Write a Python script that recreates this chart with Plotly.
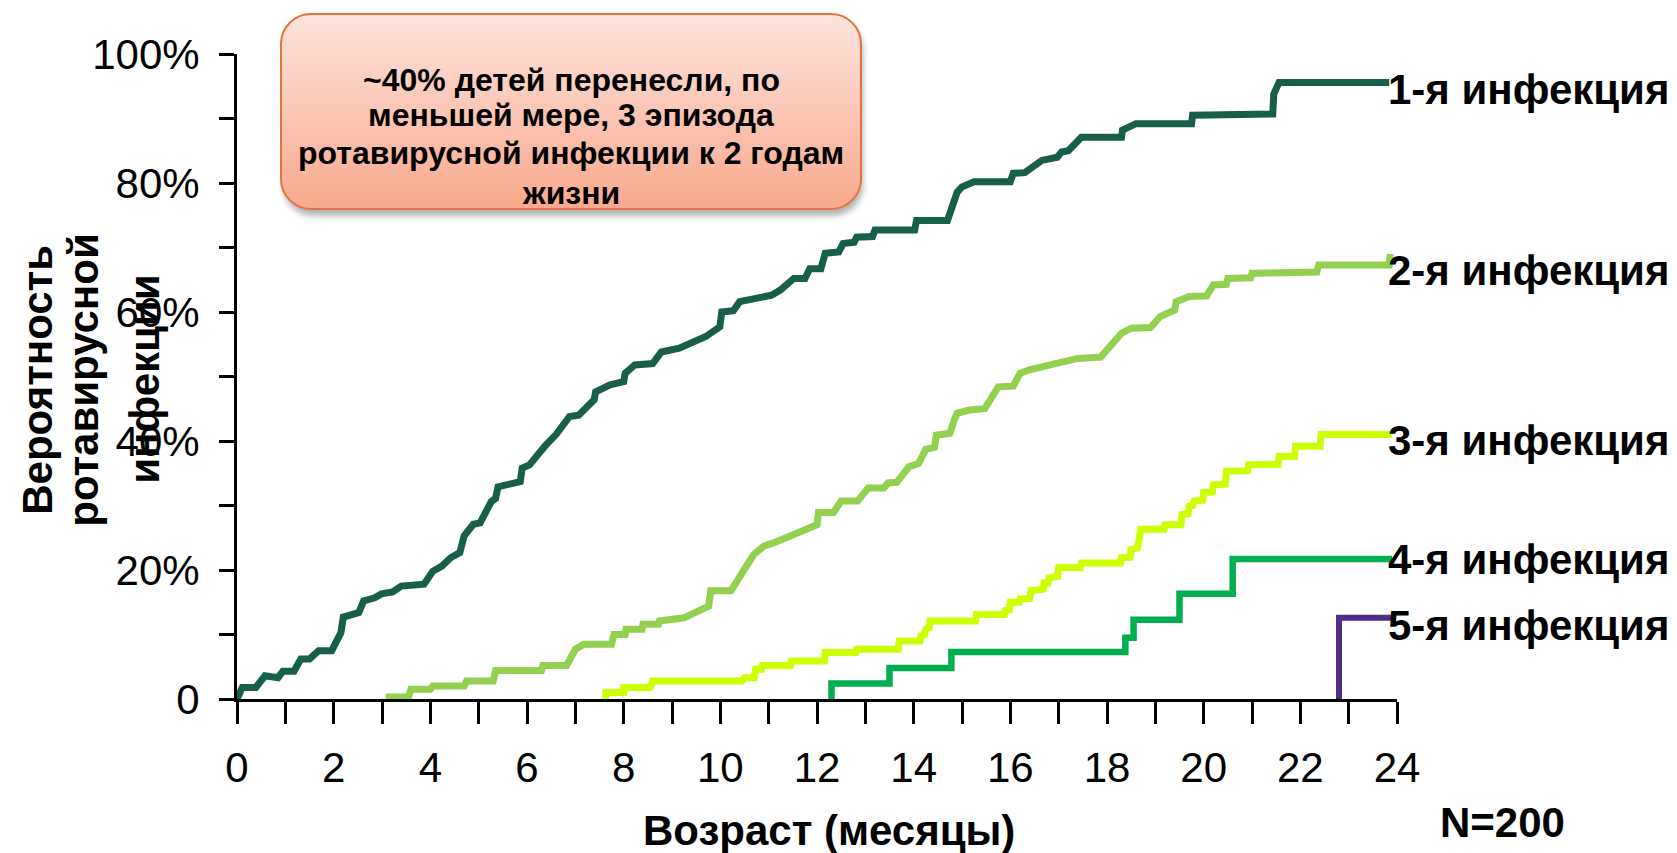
import base64
import plotly.graph_objects as go

# ---------------- data (months, cumulative probability %) ----------------
inf1_x = [0, 0.11, 0.39, 0.58, 0.85, 0.95, 1.18, 1.32, 1.5, 1.69, 1.96, 2.15, 2.2, 2.52, 2.62, 2.85, 2.99,
          3.22, 3.4, 3.87, 4.05, 4.24, 4.42, 4.61, 4.7, 4.89, 5.03, 5.26, 5.35, 5.4, 5.86, 5.9, 6.05, 6.23,
          6.37, 6.6, 6.88, 7.07, 7.25, 7.39, 7.42, 7.72, 8.0, 8.03, 8.23, 8.6, 8.78, 9.15, 9.7, 9.99, 10.03,
          10.27, 10.4, 10.69, 11.06, 11.24, 11.52, 11.75, 11.85, 12.08, 12.17, 12.45, 12.54, 12.77, 12.82,
          13.15, 13.2, 14.02, 14.06, 14.7, 14.8, 14.9, 15.0, 15.25, 16.0, 16.06, 16.3, 16.4, 16.65, 16.97,
          17.06, 17.2, 17.47, 18.3, 18.32, 18.6, 19.75, 19.77, 21.43, 21.45, 21.56, 23.84]
inf1_y = [0, 1.8, 1.8, 3.6, 3.3, 4.3, 4.3, 6.2, 6.2, 7.5, 7.5, 10.3, 12.7, 13.4, 15.2, 15.7, 16.3,
          16.6, 17.5, 17.8, 19.8, 20.6, 21.9, 22.7, 25.3, 27.1, 27.3, 30.6, 31.1, 32.9, 33.7, 35.8, 36.3, 38.1,
          39.2, 41.0, 43.8, 44.0, 45.4, 46.4, 47.6, 48.7, 49.2, 50.5, 51.8, 52.0, 53.8, 54.4, 56.2, 57.7, 60.0,
          60.2, 61.6, 62.1, 62.6, 63.4, 65.2, 65.2, 66.7, 66.7, 69.1, 69.3, 70.6, 70.8, 71.6,
          71.7, 72.7, 72.7, 74.2, 74.2, 76.3, 78.6, 79.4, 80.2, 80.2, 81.5, 81.6, 82.2, 83.5, 84.0,
          84.8, 85.0, 87.1, 87.1, 88.2, 89.2, 89.2, 90.5, 90.7, 93.8, 95.6, 95.6]

inf2_x = [3.08, 3.55, 3.6, 4.0, 4.05, 4.7, 4.75, 5.3, 5.35, 6.3, 6.33, 6.82, 7.0, 7.17, 7.75, 7.8, 8.03,
          8.05, 8.38, 8.4, 8.72, 8.74, 9.25, 9.76, 9.8,
          10.22, 10.69, 10.9, 11.1, 12.0, 12.03, 12.34, 12.5, 12.84, 13.06, 13.38, 13.47, 13.65, 13.9, 14.1,
          14.25, 14.43, 14.47, 14.75, 14.84, 14.9, 15.15, 15.47, 15.75, 16.06, 16.2, 16.38, 16.93, 17.4,
          17.87, 18.3, 18.5, 18.9, 19.1, 19.4, 19.43, 19.7, 20.06, 20.2, 20.47, 20.5, 20.97, 21.0, 22.34,
          22.38, 23.84, 23.86]
inf2_y = [0.3, 0.3, 1.5, 1.5, 2.0, 2.0, 2.8, 2.8, 4.4, 4.4, 5.2, 5.2, 7.7, 8.5, 8.5, 10.0, 10.0,
          10.8, 10.8, 11.6, 11.6, 12.1, 12.6, 14.4, 16.8,
          16.8, 22.4, 23.7, 24.2, 27.0, 28.9, 28.9, 30.7, 30.7, 32.7, 32.7, 33.5, 33.6, 36.0, 36.5,
          38.7, 39.0, 40.9, 41.2, 43.3, 44.3, 44.8, 45.0, 48.4, 48.5, 50.5, 51.0, 52.0, 52.8,
          53.0, 56.7, 57.5, 57.6, 59.3, 60.3, 61.6, 62.4, 62.5, 64.2, 64.3, 65.2, 65.3, 66.0, 66.2,
          67.3, 67.3, 69.0]

inf3_x = [7.63, 7.63, 8.0, 8.0, 8.55, 8.6, 10.45, 10.5, 10.7, 10.73, 10.85, 10.87, 11.45, 11.47, 12.15,
          12.17, 12.8, 12.82, 13.68, 13.7, 14.13, 14.15, 14.23, 14.25, 14.32, 14.34, 15.28, 15.3, 15.88,
          15.9, 15.98, 16.0, 16.18, 16.2, 16.4, 16.43, 16.68, 16.7, 16.78, 16.8, 16.98, 17.0, 17.45, 17.47,
          18.28, 18.3, 18.48, 18.5, 18.63, 18.65, 18.68, 18.7, 19.18, 19.2, 19.53, 19.55, 19.68, 19.7,
          19.78, 19.8, 19.98, 20.0, 20.18, 20.2, 20.45, 20.47, 20.91, 20.93, 21.54, 21.56, 21.88, 21.9,
          22.41, 22.43, 23.9]
inf3_y = [-0.8, 1.0, 1.0, 1.8, 1.8, 2.8, 2.8, 3.3, 3.3, 4.6, 4.6, 5.2, 5.2, 5.9, 5.9,
          7.2, 7.2, 7.7, 7.7, 9.0, 9.0, 9.8, 10.0, 10.8, 11.0, 12.1, 12.1, 13.1, 13.1,
          13.7, 13.8, 15.0, 15.0, 15.5, 15.6, 16.8, 17.0, 18.0, 18.0, 18.8, 19.0, 20.4, 20.4, 21.1,
          21.1, 21.9, 22.0, 23.2, 23.4, 24.7, 24.9, 26.3, 26.3, 27.0, 27.0, 28.6, 28.7, 29.9,
          30.0, 30.7, 30.8, 32.0, 32.1, 33.2, 33.3, 35.3, 35.4, 36.3, 36.4, 37.6, 37.6, 39.2,
          39.2, 41.0, 41.0]

inf4_x = [12.3, 12.3, 13.5, 13.5, 14.78, 14.78, 18.38, 18.38, 18.55, 18.55, 19.5, 19.5, 20.6, 20.6, 23.9]
inf4_y = [-0.3, 2.4, 2.4, 4.8, 4.8, 7.3, 7.3, 9.5, 9.5, 12.3, 12.3, 16.3, 16.3, 21.7, 21.7]

inf5_x = [22.8, 22.8, 23.9]
inf5_y = [-0.6, 12.6, 12.6]

series_names = ["1-я инфекция", "2-я инфекция", "3-я инфекция", "4-я инфекция", "5-я инфекция"]
series_colors = ["#185f4b", "#92d050", "#ccff00", "#00b050", "#4f2d88"]
label_y = [94.5, 66.4, 40.1, 21.7, 11.4]

x_ticks = list(range(0, 25))
x_ticktext = [str(v) if v % 2 == 0 else "" for v in x_ticks]
y_ticks = list(range(0, 101, 10))
y_ticktext = ["0" if v == 0 else (f"{v}%" if v % 20 == 0 else "") for v in y_ticks]

box_lines = ["~40% детей перенесли, по", "меньшей мере, 3 эпизода",
             "ротавирусной инфекции к 2 годам", "жизни"]
y_title_lines = ["Вероятность", "ротавирусной", "инфекции"]
x_title = "Возраст (месяцы)"
n_text = "N=200"

FONT = "Liberation Sans, Arial, sans-serif"

# ---------------- layout geometry (screen px; page body has an 8px margin) ----------------
W, H = 1677, 853
OFF = 8
PX0, PX1, PY0, PY1 = 237, 1397, 54, 699.5   # plot area on screen
L, R, T, B = PX0 - OFF, W + OFF - PX1, PY0 - OFF, H + OFF - PY1
pw, ph = PX1 - PX0, PY1 - PY0


def px(xs):
    return (xs - PX0) / pw


def py(ys):
    return (PY1 - ys) / ph


fig = go.Figure()
xs = [inf1_x, inf2_x, inf3_x, inf4_x, inf5_x]
ys = [inf1_y, inf2_y, inf3_y, inf4_y, inf5_y]
widths = [7, 7, 7, 6.5, 6]
for x, y, name, col, w in zip(xs, ys, series_names, series_colors, widths):
    fig.add_trace(go.Scatter(x=x, y=y, mode="lines", name=name, line=dict(color=col, width=w),
                             showlegend=False, hoverinfo="skip"))

for name, ly in zip(series_names, label_y):
    fig.add_annotation(x=23.78, y=ly, xref="x", yref="y", text=f"<b>{name}</b>", showarrow=False,
                       xanchor="left", yanchor="middle", font=dict(family=FONT, size=42, color="black"))

# callout box (gradient rounded rectangle with shadow)
bw, bh = 590, 212
svg = f"""<svg xmlns='http://www.w3.org/2000/svg' width='{bw}' height='{bh}' viewBox='0 0 {bw} {bh}'>
<defs><linearGradient id='g' x1='0' y1='0' x2='0' y2='1'>
<stop offset='0' stop-color='#fde4dd'/><stop offset='1' stop-color='#f9a98d'/></linearGradient>
<filter id='s' x='-5%' y='-5%' width='110%' height='120%'><feGaussianBlur stdDeviation='3'/></filter></defs>
<rect x='4' y='9' width='580' height='195' rx='30' fill='#000' opacity='0.3' filter='url(#s)'/>
<rect x='2' y='2' width='580' height='195' rx='30' fill='url(#g)' stroke='#e2743f' stroke-width='2'/>
</svg>"""
src = "data:image/svg+xml;base64," + base64.b64encode(svg.encode("utf-8")).decode("ascii")
fig.add_layout_image(source=src, xref="paper", yref="paper",
                     x=px(279), y=py(12), sizex=bw / pw, sizey=bh / ph,
                     xanchor="left", yanchor="top", sizing="stretch", layer="above")
for line, yc in zip(box_lines, [80, 115.5, 153, 193]):
    fig.add_annotation(xref="paper", yref="paper", x=px(571), y=py(yc), text=f"<b>{line}</b>",
                       showarrow=False, xanchor="center", yanchor="middle",
                       font=dict(family=FONT, size=32, color="black"))

# axis titles
for txt, xc in zip(y_title_lines, [38, 84, 145]):
    fig.add_annotation(xref="paper", yref="paper", x=px(xc), y=py(380),
                       text=f"<b>{txt}</b>", textangle=-90, showarrow=False,
                       xanchor="center", yanchor="middle", font=dict(family=FONT, size=42, color="black"))
fig.add_annotation(xref="paper", yref="paper", x=px(829), y=py(831),
                   text=f"<b>{x_title}</b>", showarrow=False, xanchor="center", yanchor="middle",
                   font=dict(family=FONT, size=42, color="black"))
fig.add_annotation(xref="paper", yref="paper", x=px(1502), y=py(823),
                   text=f"<b>{n_text}</b>", showarrow=False, xanchor="center", yanchor="middle",
                   font=dict(family=FONT, size=42, color="black"))

fig.update_xaxes(range=[0, 24], tickvals=x_ticks, ticktext=x_ticktext, ticks="outside", ticklen=22,
                 tickwidth=3, tickcolor="black", showline=True, linewidth=3, linecolor="black",
                 showgrid=False, zeroline=False, ticklabelstandoff=8,
                 tickfont=dict(family=FONT, size=42, color="black"))
fig.update_yaxes(range=[0, 100], tickvals=y_ticks, ticktext=y_ticktext, ticks="outside", ticklen=15,
                 tickwidth=3, tickcolor="black", showline=True, linewidth=3, linecolor="black",
                 showgrid=False, zeroline=False, ticklabelstandoff=11,
                 tickfont=dict(family=FONT, size=42, color="black"))

fig.update_layout(width=W, height=H, margin=dict(l=L, r=R, t=T, b=B, autoexpand=False),
                  plot_bgcolor="white", paper_bgcolor="white", showlegend=False)

fig.write_html("out.html")
